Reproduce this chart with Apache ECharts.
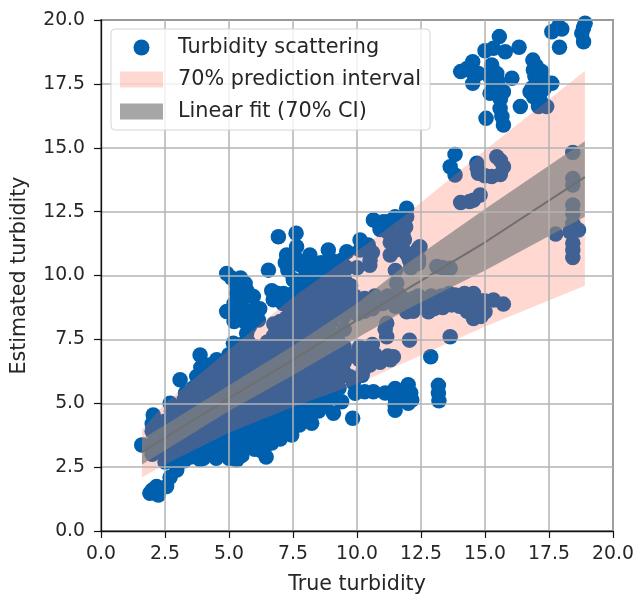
<!DOCTYPE html>
<html><head><meta charset="utf-8">
<style>html,body{margin:0;padding:0;background:#fff}#c{width:637px;height:594px;filter:blur(0.45px)}</style>
<script src="https://cdn.jsdelivr.net/npm/echarts@6/dist/echarts.min.js"></script>
</head><body><div id="c"></div>
<script>
const topRight=[[15.56,19.35],[17.87,19.74],[17.61,19.54],[18.91,19.87],[18.78,19.48],[18.85,19.15],[17.91,18.93],[16.33,18.93],[15.79,18.76],[15.0,18.8],[15.33,18.89],[16.87,18.43],[14.52,18.37],[14.05,17.98],[14.48,17.98],[14.74,17.91],[14.52,17.52],[15.26,18.24],[15.46,17.91],[16.05,17.72],[16.89,18.04],[17.22,17.98],[17.61,17.52],[17.02,17.52],[16.76,17.19],[17.15,16.87],[17.41,16.61],[17.09,16.61],[16.38,16.61],[15.59,16.54],[15.66,16.22],[15.72,15.89],[15.04,16.15],[15.2,17.13],[15.72,17.19],[15.33,17.39],[15.5,17.6],[16.95,17.8],[17.3,17.3],[15.2,17.75],[15.6,16.9],[18.0,19.65],[18.85,19.7],[16.9,17.0],[15.2,17.95],[15.55,17.35],[17.3,17.65],[17.0,18.2],[16.85,17.35],[14.3,18.1]];
const midRight=[[13.83,14.74],[13.64,14.26],[13.83,13.93],[14.68,14.39],[14.74,14.0],[15.26,13.87],[15.72,14.26],[15.46,14.65],[15.6,13.95],[14.05,12.86],[14.55,12.95],[14.81,13.15],[15.0,13.9],[15.6,14.5],[14.4,12.9],[14.7,14.2]];
const rightColumn=[[18.43,14.81],[18.43,13.8],[18.43,13.54],[18.43,12.76],[18.43,12.43],[18.43,12.04],[18.65,11.78],[18.32,11.71],[18.43,11.26],[18.43,11.0],[18.43,10.7],[17.76,11.62]];
const rowNine=[[15.72,8.88],[15.33,9.04],[15,8.58],[14.55,8.32],[14.55,9.3],[14.16,8.91],[13.83,9.24],[13.5,9.04],[13.12,8.91],[12.79,8.58],[12.46,8.78],[11.94,8.58],[12.9,9.2],[12.4,9.2],[11.8,9.1],[14.9,9.0],[14.3,8.6],[11.2,9.2],[10.7,9.2],[10.3,9.1],[9.9,9.2],[11.5,8.8],[13.64,7.6],[12.88,6.82],[12.05,7.47],[11.42,6.82],[11.2,6.85],[11.16,8.13],[11.16,7.6],[11.1,7.9],[10.51,6.95],[10.1,6.7],[9.73,6.85],[10.5,6.5],[9.5,7.2],[10.6,7.3],[14.7,8.8],[13.3,9.2],[13.0,8.7],[14.0,9.2],[11.3,6.7],[10.9,6.6],[10.7,6.9],[10.25,6.3],[10.1,7.2],[10.6,8.9],[10.0,8.8],[11.0,8.9],[11.9,9.0],[12.2,8.6],[15.0,9.0],[14.6,8.7],[14.35,9.05],[14.0,8.8],[13.7,8.85],[13.35,8.75],[13.0,9.0],[12.6,9.0],[12.2,9.1],[14.85,8.4],[14.2,9.3],[13.6,9.3]];
const upperMid=[[13.12,10.35],[13.64,10.28],[12.46,11.13],[12.4,10.67],[11.94,12.63],[11.49,12.3],[11.03,12.1],[10.64,12.17],[10.9,11.8],[11.9,11.9],[11.85,11.4],[11.3,11.3],[11.3,10.8],[11.5,10.2],[11.55,9.7],[12.0,10.75],[10.44,11.19],[10.12,11.39],[10.6,10.9],[10.5,10.4],[10.0,10.3],[11.2,11.7],[11.94,12.3],[11.8,11.58],[12.4,11.06],[12.4,10.47],[10.51,10.6],[12.05,10.6],[11.6,9.3],[11.9,10.9],[13.35,10.3],[11.5,11.8],[11.5,11.0],[11.2,12.1],[12.1,10.3]];
const lowRow=[[13.18,5.7],[13.18,5.4],[13.2,5.1],[12.0,5.72],[11.49,5.58],[10.64,5.45],[9.93,5.39],[12.14,5.13],[11.49,4.93],[9.4,5.06],[9.73,6.04],[12.1,5.4],[11.8,5.4],[11.1,5.4],[10.3,5.45],[9.83,4.41],[9.86,5.8],[10.2,6.1],[11.49,4.73],[11.49,5.2],[12.0,5.0]];
const upperLeft=[[6.93,11.52],[7.62,11.65],[7.64,11.13],[7.25,10.8],[8.16,10.8],[8.88,11.0],[9.6,10.93],[6.54,10.21],[4.91,10.08],[7.8,10.4],[8.4,10.2],[9.1,10.4],[9.6,10.3],[8.0,10.0],[7.3,10.2],[7.51,9.83],[6.73,9.05],[5.1,9.9],[5.63,9.69],[5.95,9.18],[5.95,8.65],[4.91,8.59],[6.15,8.26],[5.3,9.3],[7.2,10.5],[7.6,10.7],[8.2,10.4],[8.6,10.5],[9.4,10.6],[9.0,10.6],[10.12,11.0],[7.13,9.3],[6.9,9.3],[6.67,9.4],[7.1,8.9],[5.3,9.6],[5.5,9.0],[5.3,8.7],[5.5,8.5],[5.8,8.0],[5.2,8.9],[5.7,9.4],[5.75,8.4],[5.45,9.9],[6.2,8.7],[5.6,8.2],[5.2,8.2]];
const massA=[[1.59,3.37],[2.04,4.54],[2.0,3.0],[2.0,3.4],[2.0,3.9],[2.0,4.2],[2.5,2.7],[2.5,3.1],[2.5,3.5],[2.5,3.9],[2.5,4.3],[2.7,5.0],[3.0,2.9],[3.0,3.3],[3.0,3.8],[3.0,4.3],[3.0,4.8],[3.09,5.92],[3.3,5.4],[3.5,2.9],[3.5,3.4],[3.5,3.9],[3.5,4.4],[3.5,4.9],[3.74,6.05],[3.6,5.6],[3.87,6.89],[3.9,6.4],[4.0,2.85],[4.0,3.4],[4.0,3.9],[4.0,4.4],[4.0,4.9],[4.0,5.4],[4.0,5.9],[4.52,6.7],[4.5,2.85],[4.5,3.4],[4.5,3.9],[4.5,4.4],[4.5,4.9],[4.5,5.4],[4.5,5.9],[4.5,6.3],[5.0,2.85],[5.0,3.4],[5.0,3.9],[5.0,4.4],[5.0,4.9],[5.0,5.4],[5.0,5.9],[5.0,6.4],[5.17,7.35],[5.0,6.9]];
const massB=[[5.5,2.95],[5.5,3.4],[5.5,3.9],[5.5,4.4],[5.5,4.9],[5.5,5.4],[5.5,5.9],[5.5,6.4],[5.5,6.9],[5.69,7.74],[5.5,7.3],[6.0,3.2],[6.0,3.7],[6.0,4.2],[6.0,4.7],[6.0,5.2],[6.0,5.7],[6.0,6.2],[6.0,6.7],[6.0,7.2],[6.45,2.9],[6.5,3.4],[6.5,3.9],[6.5,4.4],[6.5,4.9],[6.5,5.4],[6.5,5.9],[6.5,6.4],[6.5,6.9],[6.5,7.4],[6.67,3.44],[7.0,3.6],[7.0,4.1],[7.0,4.6],[7.0,5.1],[7.0,5.6],[7.0,6.1],[7.0,6.6],[7.0,7.1],[7.0,7.6],[7.0,8.2],[7.45,3.76],[7.5,4.3],[7.5,4.8],[7.5,5.3],[7.5,5.8],[7.5,6.3],[7.5,6.8],[7.5,7.3],[7.5,7.8],[7.5,8.3],[7.5,8.8],[7.5,9.3]];
const massC=[[8.0,4.4],[8.23,4.22],[8.0,4.9],[8.0,5.4],[8.0,5.9],[8.0,6.4],[8.0,6.9],[8.0,7.4],[8.0,7.9],[8.0,8.4],[8.0,8.9],[8.0,9.4],[8.5,4.7],[8.5,5.2],[8.5,5.7],[8.5,6.2],[8.5,6.7],[8.5,7.2],[8.5,7.7],[8.5,8.2],[8.5,8.7],[8.5,9.2],[8.5,9.7],[9.08,4.61],[9.0,5.2],[9.0,5.7],[9.0,6.2],[9.0,6.7],[9.0,7.2],[9.0,7.7],[9.0,8.2],[9.0,8.7],[9.0,9.2],[9.0,9.7],[9.5,6.2],[9.5,6.6],[9.5,7.9],[9.5,8.4],[9.5,8.9],[9.5,9.4],[9.5,9.9],[10.0,8.5],[10.3,8.6],[10.6,8.7],[10.9,8.9],[9.3,5.6]];
const massD=[[2.25,3.15],[2.25,3.65],[2.25,4.15],[2.75,2.85],[2.75,3.35],[2.75,3.85],[2.75,4.35],[2.75,4.7],[3.25,2.75],[3.25,3.15],[3.25,3.65],[3.25,4.15],[3.25,4.65],[3.25,5.15],[3.75,3.15],[3.75,3.65],[3.75,4.15],[3.75,4.65],[3.75,5.15],[3.75,5.65],[4.25,3.15],[4.25,3.65],[4.25,4.15],[4.25,4.65],[4.25,5.15],[4.25,5.65],[4.25,6.15],[4.25,6.5],[4.75,3.15],[4.75,3.65],[4.75,4.15],[4.75,4.65],[4.75,5.15],[4.75,5.65],[4.75,6.15],[4.75,6.6],[5.25,3.15],[5.25,3.65],[5.25,4.15],[5.25,4.65],[5.25,5.15],[5.25,5.65],[5.25,6.15],[5.25,6.65],[5.25,7.0],[5.75,3.3],[5.75,3.65],[5.75,4.15],[5.75,4.65],[5.75,5.15],[5.75,5.65],[5.75,6.15],[5.75,6.65],[5.75,7.15],[5.75,7.4],[6.25,3.15],[6.25,3.65],[6.25,4.15],[6.25,4.65],[6.25,5.15],[6.25,5.65],[6.25,6.15],[6.25,6.65],[6.25,7.15],[6.75,3.75],[6.75,4.15],[6.75,4.65],[6.75,5.15],[6.75,5.65],[6.75,6.15],[6.75,6.65],[6.75,7.15],[6.75,7.65],[6.75,8.1]];
const massE=[[7.25,3.85],[7.25,4.35],[7.25,4.85],[7.25,5.35],[7.25,5.85],[7.25,6.35],[7.25,6.85],[7.25,7.35],[7.25,7.85],[7.25,8.35],[7.75,4.15],[7.75,4.65],[7.75,5.15],[7.75,5.65],[7.75,6.15],[7.75,6.65],[7.75,7.15],[7.75,7.65],[7.75,8.15],[7.75,8.65],[7.75,9.15],[7.75,9.65],[8.25,4.65],[8.25,5.15],[8.25,5.65],[8.25,6.15],[8.25,6.65],[8.25,7.15],[8.25,7.65],[8.25,8.15],[8.25,8.65],[8.25,9.15],[8.25,9.65],[8.25,10.0],[8.75,4.9],[8.75,5.45],[8.75,5.95],[8.75,6.45],[8.75,6.95],[8.75,7.45],[8.75,7.95],[8.75,8.45],[8.75,8.95],[8.75,9.45],[8.75,9.95],[8.75,10.2],[9.25,5.9],[9.25,6.45],[9.25,6.95],[9.25,7.45],[9.25,8.6],[9.25,9.0],[9.25,9.5],[9.25,10.0],[9.75,8.6],[9.75,9.1],[9.75,9.6]];
const lowLeft=[[2.17,1.74],[1.91,1.48],[2.24,1.41],[2.56,1.74],[2.0,1.6],[2.3,1.6],[2.96,2.39],[2.7,2.1],[3.87,2.8],[5.3,2.78]];
const scatterPoints=[].concat(topRight,midRight,rightColumn,rowNine,upperMid,lowRow,upperLeft,massA,massB,massC,massD,massE,lowLeft);
const bandX=[1.6,2.5,5,7.5,10,12,15,18.9];
const piUpper=[3.95,5.0,7.1,9.15,10.95,12.45,14.9,18.0];
const piLower=[2.1,2.6,3.85,4.85,5.75,6.65,8.0,9.6];
const ciUpper=[3.6,4.15,5.7,7.25,8.9,10.5,12.6,15.25];
const ciLower=[2.6,3.15,4.7,6.1,7.55,8.7,10.2,12.3];
const fitLine=[3.1,3.65,5.2,6.7,8.25,9.5,11.3,13.85];
const tickStep=2.5;

function band(upper,lower){
  return function(params,api){
    if(params.dataIndex!==0) return null;
    const pts=[];
    bandX.forEach((x,i)=>pts.push(api.coord([x,upper[i]])));
    for(let i=bandX.length-1;i>=0;i--) pts.push(api.coord([bandX[i],lower[i]]));
    return {type:'polygon',shape:{points:pts},style:api.style()};
  };
}
const font='"DejaVu Sans"';
const axisCommon={type:'value',min:0,max:20,interval:tickStep,z:3,
  axisLine:{show:true,lineStyle:{color:'#111',width:1.3}},
  axisTick:{show:true,length:7,lineStyle:{color:'#111',width:1.2}},
  axisLabel:{color:'#262626',fontFamily:font,fontSize:18.8,formatter:v=>v.toFixed(1)},
  splitLine:{show:true,lineStyle:{color:'#b3b3b3',width:1.5}},
  nameLocation:'middle',nameTextStyle:{color:'#262626',fontFamily:font,fontSize:20.6}};
const chart=echarts.init(document.getElementById('c'),null,{renderer:'canvas'});
chart.setOption({
  animation:false,backgroundColor:'#fff',
  grid:{left:101,right:24,top:20,bottom:63,show:true,backgroundColor:'#fff',borderColor:'#111',borderWidth:1.3,containLabel:false,outerBoundsMode:'none'},
  xAxis:Object.assign({},axisCommon,{name:'True turbidity',nameGap:43,axisLabel:Object.assign({},axisCommon.axisLabel,{margin:14})}),
  yAxis:Object.assign({},axisCommon,{name:'Estimated turbidity',nameGap:71,axisLabel:Object.assign({},axisCommon.axisLabel,{margin:16})}),
  legend:{left:111,top:29,orient:'vertical',z:5,itemWidth:43,itemHeight:16,itemGap:11,padding:[8,9,8,9],
    backgroundColor:'rgba(255,255,255,0.8)',borderColor:'#d5d5d5',borderWidth:1,borderRadius:4,
    textStyle:{color:'#262626',fontFamily:font,fontSize:20.8,padding:[0,0,0,10]},selectedMode:false,
    data:[{name:'Turbidity scattering',icon:'circle'},{name:'70% prediction interval',icon:'rect'},{name:'Linear fit (70% CI)',icon:'rect'}]},
  series:[
    {name:'Turbidity scattering',type:'scatter',z:1,data:scatterPoints,symbolSize:15.5,itemStyle:{color:'#0060ad',opacity:1}},
    {name:'70% prediction interval',type:'custom',z:2,renderItem:band(piUpper,piLower),encode:{x:0,y:1},
      data:bandX.map((x,i)=>[x,piUpper[i]]),itemStyle:{color:'rgba(255,99,71,0.25)'}},
    {name:'Linear fit (70% CI)',type:'custom',z:2,renderItem:band(ciUpper,ciLower),encode:{x:0,y:1},
      data:bandX.map((x,i)=>[x,ciUpper[i]]),itemStyle:{color:'rgba(128,128,128,0.7)'}},
    {name:'fit',type:'line',z:2,showSymbol:false,data:bandX.map((x,i)=>[x,fitLine[i]]),lineStyle:{color:'#6f6f6f',width:2}}
  ]
});
</script></body></html>
